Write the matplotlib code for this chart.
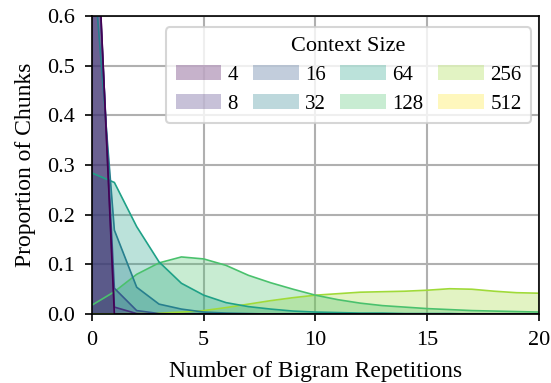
import numpy as np
import matplotlib.pyplot as plt

plt.rcParams['font.family'] = ['Liberation Serif', 'DejaVu Serif']

# Repetition counts on the x axis
reps = np.arange(0, 21)

# Share of chunks for each repetition count, per context size
p4 = [1.0, 0.0, 0, 0, 0, 0, 0, 0, 0, 0, 0, 0, 0, 0, 0, 0, 0, 0, 0, 0, 0]
p8 = [0.985, 0.014, 0.001, 0, 0, 0, 0, 0, 0, 0, 0, 0, 0, 0, 0, 0, 0, 0, 0, 0, 0]
p16 = [0.94, 0.052, 0.007, 0.001, 0, 0, 0, 0, 0, 0, 0, 0, 0, 0, 0, 0, 0, 0, 0, 0, 0]
p32 = [0.74, 0.169, 0.054, 0.02, 0.01, 0.004, 0.002, 0.001, 0, 0, 0, 0, 0, 0, 0, 0, 0, 0, 0, 0, 0]
p64 = [0.284, 0.265, 0.176, 0.105, 0.062, 0.038, 0.023, 0.015, 0.01, 0.006, 0.004,
       0.003, 0.002, 0.002, 0.001, 0.001, 0.001, 0, 0, 0, 0]
p128 = [0.018, 0.045, 0.08, 0.103, 0.115, 0.111, 0.098, 0.078, 0.063, 0.05, 0.038,
        0.029, 0.022, 0.017, 0.014, 0.011, 0.009, 0.007, 0.006, 0.005, 0.004]
p256 = [0.0, 0.0005, 0.001, 0.002, 0.004, 0.007, 0.013, 0.02, 0.027, 0.033, 0.038,
        0.041, 0.044, 0.045, 0.046, 0.048, 0.051, 0.05, 0.046, 0.043, 0.042]
p512 = [0, 0, 0, 0, 0, 0, 0, 0, 0, 0, 0, 0, 0, 0, 0, 0, 0, 0, 0, 0, 0.0005]

sizes = [4, 8, 16, 32, 64, 128, 256, 512]
series = [p4, p8, p16, p32, p64, p128, p256, p512]
colors = plt.cm.viridis(np.linspace(0, 1, len(sizes)))

fig = plt.figure(figsize=(5.51, 3.83), dpi=100)
ax = fig.add_axes([0.167, 0.18, 0.811, 0.778])
ax.set_axisbelow(True)
ax.grid(True, color='#b0b0b0', lw=1.5)

handles = {}
# biggest contexts first so the short ones sit on top
for size, vals, c in reversed(list(zip(sizes, series, colors))):
    h = ax.fill_between(reps, vals, color=c, alpha=0.3, lw=0, label=str(size))
    ax.plot(reps, vals, color=c, lw=1.2)
    handles[size] = h

ax.set_xlim(0, 20)
ax.set_ylim(0, 0.6)
ax.set_xticks([0, 5, 10, 15, 20])
ax.set_yticks(np.arange(0, 0.61, 0.1))
ax.tick_params(labelsize=16, length=5, width=1.2, pad=7, color='black')
for s in ax.spines.values():
    s.set_color('black')
    s.set_linewidth(1.2)

ax.set_xlabel('Number of Bigram Repetitions', fontsize=17, labelpad=8)
ax.set_ylabel('Proportion of Chunks', fontsize=17, labelpad=8)

leg = ax.legend([handles[s] for s in sizes], [str(s) for s in sizes],
                title='Context Size', ncol=4, loc='upper right',
                fontsize=15, title_fontsize=16, handlelength=2.2,
                columnspacing=0.7, handletextpad=0.3, labelspacing=0.45,
                borderpad=0.45, borderaxespad=0,
                bbox_to_anchor=(0.982, 0.962))
leg.get_frame().set_edgecolor('#cccccc')
leg.get_frame().set_linewidth(1.5)

fig.savefig('out.png', dpi=100)
